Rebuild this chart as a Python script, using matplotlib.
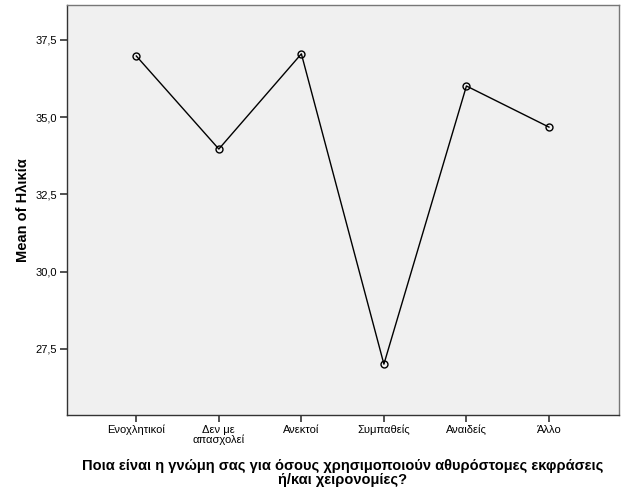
import matplotlib
matplotlib.use("Agg")
import matplotlib.pyplot as plt

categories = ["Ενοχλητικοί", "Δεν με\nαπασχολεί", "Ανεκτοί", "Συμπαθείς", "Αναιδείς", "Άλλο"]
means = [36.98, 33.97, 37.05, 27.01, 36.01, 34.68]
yticks = [27.5, 30.0, 32.5, 35.0, 37.5]
ytick_labels = ["27,5", "30,0", "32,5", "35,0", "37,5"]

plt.rcParams["font.family"] = ["Liberation Sans", "DejaVu Sans"]

fig = plt.figure(figsize=(6.26, 5.01), dpi=100)
ax = fig.add_axes([0.107, 0.172, 0.882, 0.818])
ax.set_facecolor("#f0f0f0")

x = list(range(len(categories)))
ax.plot(x, means, color="black", lw=1.0, marker="o", markersize=5,
        markerfacecolor="none", markeredgecolor="black", markeredgewidth=1.0)

ax.set_xlim(-0.84, 5.85)
ax.set_ylim(25.37, 38.63)
ax.set_xticks(x)
ax.set_xticklabels(categories, fontsize=8, linespacing=1.0)
ax.set_yticks(yticks)
ax.set_yticklabels(ytick_labels, fontsize=8)
ax.tick_params(direction="out", length=5, width=1.2, color="#333333", pad=2)

for s in ax.spines.values():
    s.set_color("#333333")
    s.set_linewidth(1.0)
ax.spines["top"].set_color("#777777")
ax.spines["right"].set_color("#777777")

ax.set_ylabel("Mean of Ηλικία", fontsize=10.5, fontweight="bold", labelpad=4)
ax.set_xlabel("Ποια είναι η γνώμη σας για όσους χρησιμοποιούν αθυρόστομες εκφράσεις\nή/και χειρονομίες?",
              fontsize=10.5, fontweight="bold", linespacing=1.0, labelpad=10)

fig.savefig("out.png", dpi=100)
